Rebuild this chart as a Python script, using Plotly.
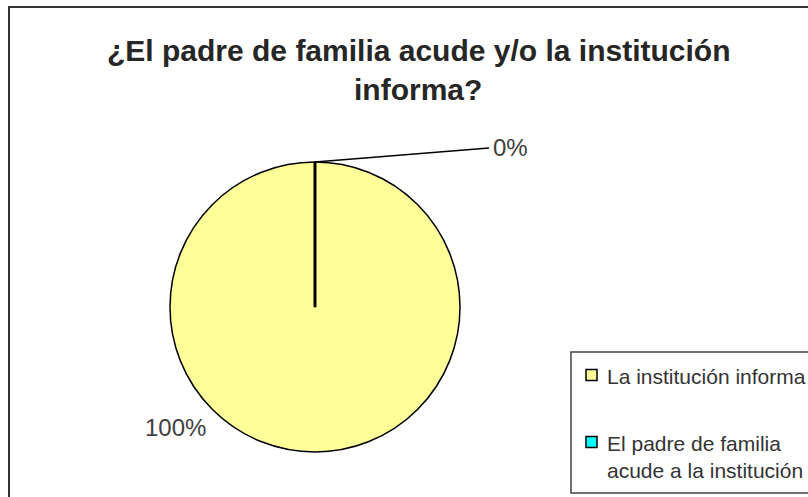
import plotly.graph_objects as go

# ---- data ----
categories = ["La institución informa", "El padre de familia acude a la institución"]
legend_labels = ["La institución informa", "El padre de familia<br>acude a la institución"]
values = [100, 0]
colors = ["#FFFF99", "#00FFFF"]
title_lines = ["¿El padre de familia acude y/o la institución", "informa?"]

W, H = 808, 497
def px(x): return x / W
def py(y): return 1 - y / H

# pie geometry (pixels)
CX, CY, R = 315, 307, 145

fig = go.Figure()
fig.add_trace(go.Pie(
    labels=categories, values=values,
    marker=dict(colors=colors, line=dict(color="black", width=1.5)),
    sort=False, direction="clockwise", rotation=0,
    textinfo="none", hoverinfo="label+percent",
    showlegend=False,
    domain=dict(x=[px(CX - R), px(CX + R)], y=[py(CY + R), py(CY - R)]),
))

total = sum(values)
pcts = [f"{round(v / total * 100)}%" for v in values]

shapes = []
annotations = []

# outer chart border
shapes.append(dict(type="rect", xref="paper", yref="paper",
                   x0=px(9), x1=px(830), y0=py(520), y1=py(7),
                   line=dict(color="#333333", width=2), fillcolor="rgba(0,0,0,0)", layer="below"))

# slice boundary (zero slice at top)
shapes.append(dict(type="line", xref="paper", yref="paper",
                   x0=px(CX), y0=py(CY), x1=px(CX), y1=py(CY - R),
                   line=dict(color="black", width=3)))
# leader line for 0%
shapes.append(dict(type="line", xref="paper", yref="paper",
                   x0=px(CX), y0=py(CY - R), x1=px(489), y1=py(148),
                   line=dict(color="black", width=1.5)))

# title
for i, t in enumerate(title_lines):
    annotations.append(dict(text=f"<b>{t}</b>", x=px(418), y=py(50 + 40 * i),
                            xref="paper", yref="paper", xanchor="center", yanchor="middle",
                            showarrow=False,
                            font=dict(family="Liberation Sans, Arial", size=30, color="#262626")))

# percentage labels
annotations.append(dict(text=pcts[1], x=px(491), y=py(148), xref="paper", yref="paper",
                        xanchor="left", yanchor="middle", showarrow=False,
                        font=dict(family="Liberation Sans, Arial", size=24, color="#404040")))
annotations.append(dict(text=pcts[0], x=px(175), y=py(427), xref="paper", yref="paper",
                        xanchor="center", yanchor="middle", showarrow=False,
                        font=dict(family="Liberation Sans, Arial", size=24, color="#404040")))

# legend box
shapes.append(dict(type="rect", xref="paper", yref="paper",
                   x0=px(571), x1=px(840), y0=py(493), y1=py(352),
                   line=dict(color="#444444", width=1.5), fillcolor="white"))
sym_y = [375, 442]
txt_y = [376, 457]
for i in range(len(categories)):
    shapes.append(dict(type="rect", xref="paper", yref="paper",
                       x0=px(586), x1=px(597), y0=py(sym_y[i] + 5.5), y1=py(sym_y[i] - 5.5),
                       line=dict(color="black", width=1.5), fillcolor=colors[i]))
    annotations.append(dict(text=legend_labels[i], x=px(605), y=py(txt_y[i]),
                            xref="paper", yref="paper", xanchor="left", yanchor="middle",
                            align="left", showarrow=False,
                            font=dict(family="Liberation Sans, Arial", size=21, color="#333333")))

fig.update_layout(
    width=W, height=H,
    margin=dict(l=0, r=0, t=0, b=0),
    paper_bgcolor="white", plot_bgcolor="white",
    shapes=shapes, annotations=annotations,
)

fig.write_html("out.html")
